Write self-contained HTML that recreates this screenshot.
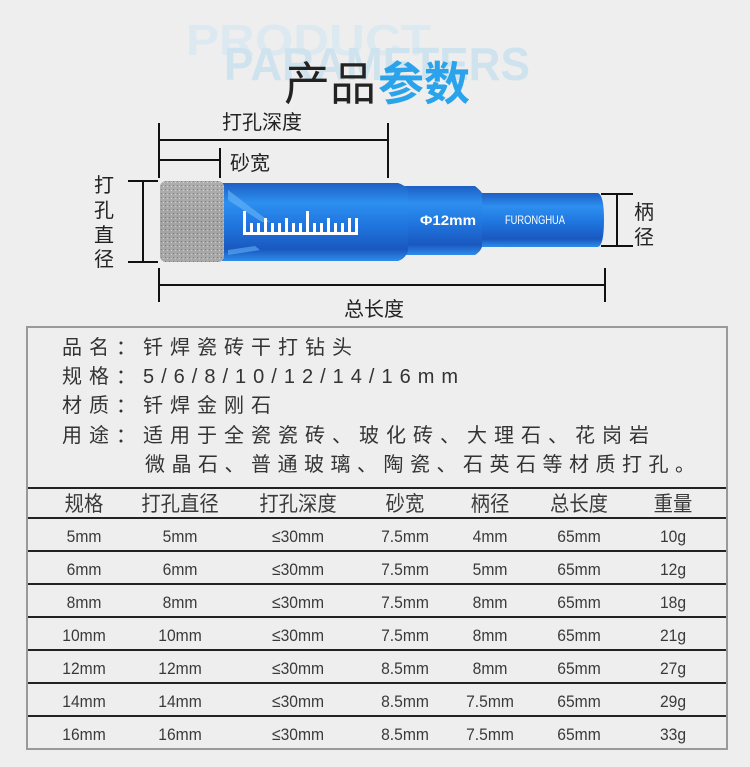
<!DOCTYPE html>
<html><head><meta charset="utf-8"><style>
body{margin:0;width:750px;height:767px;background:#eeeeee;overflow:hidden;position:relative;font-family:"Liberation Sans","Noto Sans CJK SC",sans-serif;color:#333}
.info{position:absolute;left:62px;font-size:20px;letter-spacing:7px;color:#333;line-height:29px}
.row{position:absolute;height:33px}
.c{position:absolute;transform:translateX(-50%) scaleX(0.92);font-size:17px;color:#3a3a3a;white-space:nowrap}
.hl{position:absolute;left:28px;width:698px;height:2px;background:#222}
</style></head><body>
<svg width="750" height="320" style="position:absolute;left:0;top:0">
<defs>
<linearGradient id="bl" x1="0" y1="0" x2="0" y2="1">
<stop offset="0" stop-color="#1d5fc4"/><stop offset="0.25" stop-color="#2d8ff0"/><stop offset="0.55" stop-color="#1f75de"/><stop offset="0.85" stop-color="#1a58bf"/><stop offset="1" stop-color="#2e8cea"/></linearGradient>
<linearGradient id="sv" x1="0" y1="0" x2="0" y2="1">
<stop offset="0" stop-color="#bbb"/><stop offset="0.5" stop-color="#999"/><stop offset="1" stop-color="#aaa"/></linearGradient>
<pattern id="dots" width="4" height="4" patternUnits="userSpaceOnUse"><rect width="4" height="4" fill="#a8a8a8"/><rect x="1" y="1" width="1" height="1" fill="#666"/><rect x="3" y="2" width="1" height="1" fill="#ddd"/></pattern>
</defs>
<text x="186" y="55" font-family="Liberation Sans" font-weight="bold" font-size="44" fill="#dce9f1" textLength="245" lengthAdjust="spacingAndGlyphs">PRODUCT</text>
<text x="224" y="80" font-family="Liberation Sans" font-weight="bold" font-size="46" fill="#cfe3ef" textLength="306" lengthAdjust="spacingAndGlyphs">PARAMETERS</text>
<text x="284" y="100" font-family="Liberation Sans,Noto Sans CJK SC,sans-serif" font-size="46" fill="#222">产品</text>
<text x="378" y="100" font-family="Liberation Sans,Noto Sans CJK SC,sans-serif" font-size="46" font-weight="bold" fill="#2ba3ea">参数</text>
<g stroke="#111" stroke-width="2" fill="none">
<line x1="159" y1="123" x2="159" y2="178"/><line x1="388" y1="123" x2="388" y2="178"/><line x1="159" y1="140" x2="388" y2="140"/>
<line x1="220" y1="148" x2="220" y2="178"/><line x1="159" y1="160" x2="220" y2="160"/>
<line x1="128" y1="181" x2="158" y2="181"/><line x1="128" y1="262" x2="158" y2="262"/><line x1="143" y1="181" x2="143" y2="262"/>
<line x1="601" y1="194" x2="633" y2="194"/><line x1="601" y1="246" x2="633" y2="246"/><line x1="617" y1="194" x2="617" y2="246"/>
<line x1="159" y1="268" x2="159" y2="302"/><line x1="605" y1="268" x2="605" y2="302"/><line x1="159" y1="285" x2="605" y2="285"/>
</g>
<g font-family="Liberation Sans,Noto Sans CJK SC,sans-serif" font-size="20" fill="#222">
<text x="222" y="129">打孔深度</text>
<text x="230" y="170">砂宽</text>
<text x="94" y="192">打</text><text x="94" y="217">孔</text><text x="94" y="242">直</text><text x="94" y="266">径</text>
<text x="634" y="219">柄</text><text x="634" y="244">径</text>
<text x="344" y="316">总长度</text>
</g>
<path d="M480 193 L598 193 Q604 195 604 220 Q604 245 598 247 L480 247 Z" fill="url(#bl)"/>
<path d="M405 186 L475 186 Q480 190 482 193 L482 247 Q480 252 475 255 L405 255 Z" fill="url(#bl)"/>
<path d="M222 183 L398 183 Q405 185 408 190 L408 251 Q405 259 398 261 L222 261 Z" fill="url(#bl)"/>
<path d="M228 190 L270 222 L262 222 L228 200Z" fill="#5fb0f5" opacity="0.7"/>
<path d="M228 255 L260 250 L255 246 L228 250Z" fill="#5fb0f5" opacity="0.6"/>
<rect x="160" y="181" width="64" height="81" rx="6" fill="url(#dots)"/>
<rect x="160" y="181" width="64" height="81" rx="6" fill="url(#sv)" opacity="0.35"/>
<g fill="#fff">
<rect x="243" y="211" width="3" height="24"/><rect x="250" y="223" width="3" height="12"/><rect x="257" y="223" width="3" height="12"/><rect x="264" y="218" width="3" height="17"/><rect x="271" y="223" width="3" height="12"/><rect x="278" y="223" width="3" height="12"/><rect x="285" y="218" width="3" height="17"/><rect x="292" y="223" width="3" height="12"/><rect x="299" y="223" width="3" height="12"/><rect x="306" y="211" width="3" height="24"/><rect x="313" y="223" width="3" height="12"/><rect x="320" y="223" width="3" height="12"/><rect x="327" y="218" width="3" height="17"/><rect x="334" y="223" width="3" height="12"/><rect x="341" y="223" width="3" height="12"/><rect x="348" y="218" width="3" height="17"/><rect x="355" y="218" width="3" height="17"/>
<rect x="243" y="232" width="115" height="3"/>
</g>
<text x="420" y="225" font-family="Liberation Sans" font-size="14" font-weight="bold" fill="#fff" textLength="56" lengthAdjust="spacingAndGlyphs">Φ12mm</text>
<text x="505" y="224" font-family="Liberation Sans" font-size="12" fill="#fff" textLength="60" lengthAdjust="spacingAndGlyphs">FURONGHUA</text>
</svg>
<div style="position:absolute;left:26px;top:326px;width:698px;height:420px;border:2px solid #999"></div>
<div class="info" style="top:334px">品名：钎焊瓷砖干打钻头</div>
<div class="info" style="top:363px">规格：5/6/8/10/12/14/16mm</div>
<div class="info" style="top:392px">材质：钎焊金刚石</div>
<div class="info" style="top:422px">用途：适用于全瓷瓷砖、玻化砖、大理石、花岗岩</div>
<div class="info" style="top:451px;left:145px;letter-spacing:6.5px">微晶石、普通玻璃、陶瓷、石英石等材质打孔。</div>
<div class="hl" style="top:487px"></div>
<div class="row" style="top:486px;left:0;width:750px">
<span class="c" style="left:84px;top:2px;font-size:21px">规格</span><span class="c" style="left:180px;top:2px;font-size:21px">打孔直径</span><span class="c" style="left:298px;top:2px;font-size:21px">打孔深度</span><span class="c" style="left:405px;top:2px;font-size:21px">砂宽</span><span class="c" style="left:490px;top:2px;font-size:21px">柄径</span><span class="c" style="left:579px;top:2px;font-size:21px">总长度</span><span class="c" style="left:673px;top:2px;font-size:21px">重量</span>
</div>
<div class="hl" style="top:517px"></div>
<div class="hl" style="top:550px"></div>
<div class="hl" style="top:583px"></div>
<div class="hl" style="top:616px"></div>
<div class="hl" style="top:649px"></div>
<div class="hl" style="top:682px"></div>
<div class="hl" style="top:715px"></div>
<div class="row" style="top:527px;left:0;width:750px"><span class="c" style="left:84px">5mm</span><span class="c" style="left:180px">5mm</span><span class="c" style="left:298px">≤30mm</span><span class="c" style="left:405px">7.5mm</span><span class="c" style="left:490px">4mm</span><span class="c" style="left:579px">65mm</span><span class="c" style="left:673px">10g</span></div>
<div class="row" style="top:560px;left:0;width:750px"><span class="c" style="left:84px">6mm</span><span class="c" style="left:180px">6mm</span><span class="c" style="left:298px">≤30mm</span><span class="c" style="left:405px">7.5mm</span><span class="c" style="left:490px">5mm</span><span class="c" style="left:579px">65mm</span><span class="c" style="left:673px">12g</span></div>
<div class="row" style="top:593px;left:0;width:750px"><span class="c" style="left:84px">8mm</span><span class="c" style="left:180px">8mm</span><span class="c" style="left:298px">≤30mm</span><span class="c" style="left:405px">7.5mm</span><span class="c" style="left:490px">8mm</span><span class="c" style="left:579px">65mm</span><span class="c" style="left:673px">18g</span></div>
<div class="row" style="top:626px;left:0;width:750px"><span class="c" style="left:84px">10mm</span><span class="c" style="left:180px">10mm</span><span class="c" style="left:298px">≤30mm</span><span class="c" style="left:405px">7.5mm</span><span class="c" style="left:490px">8mm</span><span class="c" style="left:579px">65mm</span><span class="c" style="left:673px">21g</span></div>
<div class="row" style="top:659px;left:0;width:750px"><span class="c" style="left:84px">12mm</span><span class="c" style="left:180px">12mm</span><span class="c" style="left:298px">≤30mm</span><span class="c" style="left:405px">8.5mm</span><span class="c" style="left:490px">8mm</span><span class="c" style="left:579px">65mm</span><span class="c" style="left:673px">27g</span></div>
<div class="row" style="top:692px;left:0;width:750px"><span class="c" style="left:84px">14mm</span><span class="c" style="left:180px">14mm</span><span class="c" style="left:298px">≤30mm</span><span class="c" style="left:405px">8.5mm</span><span class="c" style="left:490px">7.5mm</span><span class="c" style="left:579px">65mm</span><span class="c" style="left:673px">29g</span></div>
<div class="row" style="top:725px;left:0;width:750px"><span class="c" style="left:84px">16mm</span><span class="c" style="left:180px">16mm</span><span class="c" style="left:298px">≤30mm</span><span class="c" style="left:405px">8.5mm</span><span class="c" style="left:490px">7.5mm</span><span class="c" style="left:579px">65mm</span><span class="c" style="left:673px">33g</span></div>
</body></html>
